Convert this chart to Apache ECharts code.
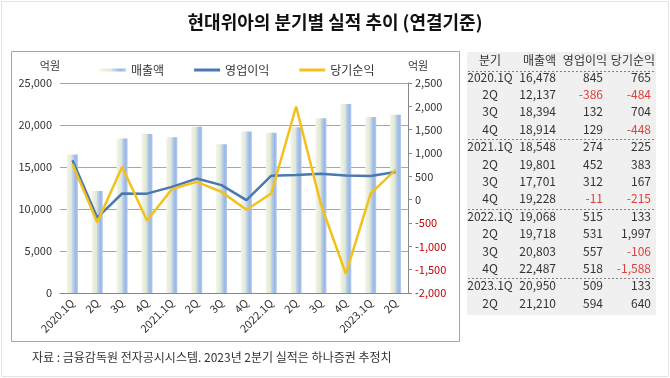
<!DOCTYPE html>
<html>
<head>
<meta charset="utf-8">
<script src="https://cdn.jsdelivr.net/npm/echarts@6/dist/echarts.min.js"></script>
<style>
  html, body { margin: 0; padding: 0; background: #fff; }
  #main { width: 670px; height: 378px; }
</style>
</head>
<body>
<div id="main"></div>
<script>
// 분기
var quarters = ['2020.1Q', '2Q', '3Q', '4Q', '2021.1Q', '2Q', '3Q', '4Q',
                '2022.1Q', '2Q', '3Q', '4Q', '2023.1Q', '2Q'];
// 매출액 (억원)
var sales = [16478, 12137, 18394, 18914, 18548, 19801, 17701, 19228,
             19068, 19718, 20803, 22487, 20950, 21210];
// 영업이익 (억원)
var opProfit = [845, -386, 132, 129, 274, 452, 312, -11,
                515, 531, 557, 518, 509, 594];
// 당기순익 (억원)
var netIncome = [765, -484, 704, -448, 225, 383, 167, -215,
                 133, 1997, -106, -1588, 133, 640];

var fontKR = '"Noto Sans CJK KR", sans-serif';

function comma(v) {
  var s = String(Math.abs(v)).replace(/\B(?=(\d{3})+(?!\d))/g, ',');
  return (v < 0 ? '-' : '') + s;
}

// table built from the same arrays
var tbl = [];
var rowY0 = 77, rowH = 17.4;
var colQ = 490, colS = 556, colO = 603, colN = 651;
var headY = 60;
var headers = [['분기', colQ, 'center'], ['매출액', colS, 'right'], ['영업이익', colO + 4, 'right'], ['당기순익', colN + 4, 'right']];
tbl.push({ type: 'rect', shape: { x: 467, y: 52, width: 189, height: 263 }, style: { fill: '#f0f0f0' }, silent: true });
headers.forEach(function (h) {
  tbl.push({ type: 'text', x: h[1], y: headY, style: { text: h[0], fill: '#333', font: '12px ' + fontKR, textAlign: h[2], textVerticalAlign: 'middle' } });
});
function dashed(y) {
  tbl.push({ type: 'line', shape: { x1: 468, y1: y, x2: 655, y2: y }, style: { stroke: '#666', lineWidth: 0.8, lineDash: [2, 2] } });
}
dashed(71.5);
var y = rowY0;
quarters.forEach(function (q, i) {
  if (i > 0 && i % 4 === 0) { dashed(Math.round(y - rowH / 2) + 1.5); }
  var t = { fill: '#333', font: '12px ' + fontKR, textVerticalAlign: 'middle' };
  tbl.push({ type: 'text', x: colQ, y: y, style: Object.assign({}, t, { text: q, textAlign: 'center' }) });
  tbl.push({ type: 'text', x: colS, y: y, style: Object.assign({}, t, { text: comma(sales[i]), textAlign: 'right' }) });
  tbl.push({ type: 'text', x: colO, y: y, style: Object.assign({}, t, { text: comma(opProfit[i]), textAlign: 'right', fill: opProfit[i] < 0 ? '#e0403a' : '#333' }) });
  tbl.push({ type: 'text', x: colN, y: y, style: Object.assign({}, t, { text: comma(netIncome[i]), textAlign: 'right', fill: netIncome[i] < 0 ? '#e0403a' : '#333' }) });
  y += rowH;
});

var barColor = new echarts.graphic.LinearGradient(0, 0, 1, 0, [
  { offset: 0, color: '#f2f5ea' },
  { offset: 0.45, color: '#dfe7cf' },
  { offset: 0.5, color: '#c5d6ee' },
  { offset: 0.8, color: '#98b7e2' },
  { offset: 1, color: '#b9cdeb' }
]);

var option = {
  backgroundColor: '#fff',
  textStyle: { fontFamily: fontKR },
  animation: false,
  title: {
    text: '현대위아의 분기별 실적 추이 (연결기준)',
    left: 'center', top: 8,
    textStyle: { fontSize: 18, fontWeight: 'bold', color: '#111', fontFamily: fontKR }
  },
  legend: {
    top: 59, left: 95,
    itemGap: 30,
    textStyle: { fontSize: 12, color: '#333' },
    data: [
      { name: '매출액', icon: 'rect', itemStyle: { color: barColor } },
      { name: '영업이익', icon: 'rect' },
      { name: '당기순익', icon: 'rect' }
    ],
    itemWidth: 26, itemHeight: 3
  },
  grid: { left: 60, right: 262, top: 83, bottom: 85 },
  xAxis: {
    type: 'category',
    data: quarters,
    axisLine: { lineStyle: { color: '#888' } },
    axisTick: { lineStyle: { color: '#888' }, length: 5 },
    axisLabel: { rotate: 45, fontSize: 11, color: '#333', margin: 8, interval: 0 }
  },
  yAxis: [
    {
      type: 'value', min: 0, max: 25000, interval: 5000,
      name: '억원', nameLocation: 'end', nameGap: 12,
      nameTextStyle: { fontSize: 11, color: '#333', align: 'right', padding: [0, 0, 0, 0] },
      axisLine: { show: false }, axisTick: { show: false },
      axisLabel: { fontSize: 11, color: '#333', formatter: comma },
      splitLine: { lineStyle: { color: '#a6a6a6' } }
    },
    {
      type: 'value', min: -2000, max: 2500, interval: 500,
      name: '억원', nameLocation: 'end', nameGap: 12,
      nameTextStyle: { fontSize: 11, color: '#333', align: 'left', padding: [0, 0, 0, 0] },
      axisLine: { show: true, lineStyle: { color: '#888' } },
      axisTick: { show: true, length: 4, lineStyle: { color: '#888' } },
      axisLabel: {
        fontSize: 11, margin: 7,
        formatter: function (v) { return v < 0 ? '{n|' + comma(v) + '}' : '{p|' + comma(v) + '}'; },
        rich: { n: { color: '#c00000', fontSize: 11 }, p: { color: '#333', fontSize: 11 } }
      },
      splitLine: { show: false }
    }
  ],
  series: [
    {
      name: '매출액', type: 'bar', yAxisIndex: 0, data: sales,
      barWidth: 11, itemStyle: { color: barColor }
    },
    {
      name: '영업이익', type: 'line', yAxisIndex: 1, data: opProfit,
      symbol: 'none', lineStyle: { color: '#4a78b0', width: 2.5 }, itemStyle: { color: '#4a78b0' }
    },
    {
      name: '당기순익', type: 'line', yAxisIndex: 1, data: netIncome,
      symbol: 'none', lineStyle: { color: '#f2c21b', width: 2.5 }, itemStyle: { color: '#f2c21b' }
    }
  ],
  graphic: [
    { type: 'rect', shape: { x: 1.5, y: 1.5, width: 667, height: 375 }, style: { fill: 'none', stroke: '#e2e2e2', lineWidth: 1 }, silent: true },
    { type: 'rect', shape: { x: 11.5, y: 51.5, width: 448, height: 290 }, style: { fill: 'none', stroke: '#a6a6a6', lineWidth: 1 }, silent: true },
    { type: 'text', x: 32, y: 357, style: { text: '자료 : 금융감독원 전자공시시스템. 2023년 2분기 실적은 하나증권 추정치', fill: '#333', font: '12px ' + fontKR, textVerticalAlign: 'middle' } }
  ].concat(tbl)
};

var myChart = echarts.init(document.getElementById('main'));
myChart.setOption(option);
</script>
</body>
</html>
